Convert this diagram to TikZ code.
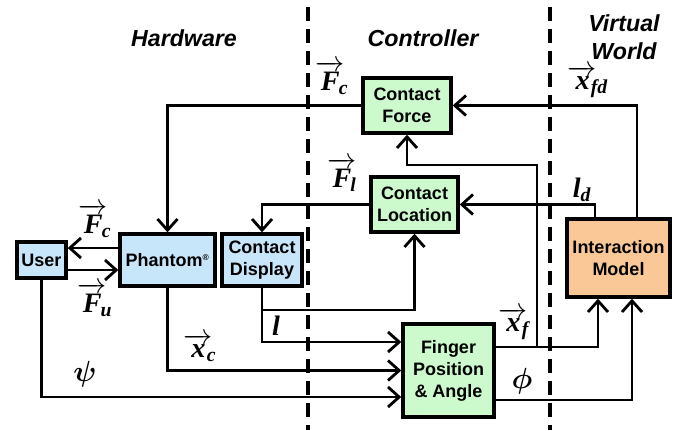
\documentclass[tikz,border=0pt]{standalone}
\usepackage{fontspec}
\usepackage{amsmath}
\setsansfont{Liberation Sans}
\newfontfamily\lserif{Liberation Serif}
\usetikzlibrary{arrows.meta}

\definecolor{ctrlgreen}{RGB}{204,250,204}
\definecolor{hwblue}{RGB}{200,230,250}
\definecolor{vworange}{RGB}{250,200,150}

\newcommand{\vlab}[2]{$\overrightarrow{\text{\lserif\bfseries\itshape #1}}_{\kern-0.22em\text{\lserif\bfseries\itshape #2}}$}
\newcommand{\plab}[2]{${\text{\lserif\bfseries\itshape #1}}_{\text{\lserif\bfseries\itshape #2}}$}

\begin{document}
\begin{tikzpicture}[
  x=0.025cm, y=-0.025cm,
  box/.style={rectangle, draw=black, line width=2.4pt, align=center, inner sep=1pt,
              font=\sffamily\bfseries\fontsize{12.8}{15.7}\selectfont},
  arr/.style={-{Straight Barb[length=2.8mm,width=5mm]}, line width=2pt},
  lab/.style={font=\fontsize{20}{22}\selectfont, inner sep=0pt},
  head/.style={font=\sffamily\bfseries\itshape\fontsize{16.5}{19.5}\selectfont, align=center},
  divider/.style={line width=2.6pt, dash pattern=on 0.35cm off 0.2cm}
]
\useasboundingbox (0,0) rectangle (673,430);

\draw[divider] (308,7) -- (308,430);
\draw[divider] (550,7) -- (550,430);

\node[head] (hhw) at (184,38) {Hardware};
\node[head] (hctrl) at (423,38) {Controller};
\node[head] (hvw) at (624,37) {Virtual\\World};

\node[box, fill=ctrlgreen, minimum width=2.2cm, minimum height=1.375cm] (force)
  at (407,105.5) {Contact\\Force};
\node[box, fill=ctrlgreen, minimum width=2.175cm, minimum height=1.375cm] (location)
  at (414.5,204.5) {Contact\\Location};
\node[box, fill=vworange, minimum width=2.575cm, minimum height=1.95cm] (model)
  at (618.5,258) {Interaction\\Model};
\node[box, fill=ctrlgreen, minimum width=2.275cm, minimum height=2.325cm] (finger)
  at (448.5,370.5) {Finger\\Position\\\& Angle};
\node[box, fill=hwblue, minimum width=1.225cm, minimum height=0.9cm] (user)
  at (41.5,260) {User};
\node[box, fill=hwblue, minimum width=2.375cm, minimum height=1.3cm] (phantom)
  at (167.5,260) {Phantom\textsuperscript{\fontsize{6}{6}\selectfont ®}};
\node[box, fill=hwblue, minimum width=2.0cm, minimum height=1.3cm] (display)
  at (262,260) {Contact\\Display};

\coordinate (tap) at (537,347);
\coordinate (kink) at (537,165);
\coordinate (lsplit) at (262,310);

\draw[arr] ([xshift=0.4625cm]model.north) |- (force.east);
\draw[arr] (force.west) -| (phantom.north);
\draw[arr] ([xshift=-0.5875cm]model.north) |- (location.east);
\draw[arr] (location.west) -| (display.north);
\draw[arr] ([yshift=0.5875cm]finger.east) -| ([xshift=-0.5125cm]model.south);
\draw[arr] (tap) -- (kink) -| (force.south);
\draw[arr] ([yshift=-0.7375cm]finger.east) -| ([xshift=0.3375cm]model.south);
\draw[arr] (display.south) |- (location.south |- lsplit) -- (location.south);
\draw[arr] (display.south) |- ([yshift=0.7125cm]finger.west);
\draw[arr] (phantom.south) |- (finger.west);
\draw[arr] (user.south) |- ([yshift=-0.6625cm]finger.west);
\draw[arr] ([yshift=0.3cm]phantom.west) -- ([yshift=0.3cm]user.east);
\draw[arr] ([yshift=-0.25cm]user.east) -- ([yshift=-0.25cm]phantom.west);

\node[lab] (lfc) at (332,78) {\vlab{F}{c}};
\node[lab] (lxfd) at (588,82) {\vlab{x}{fd}};
\node[lab] (lfl) at (342,175) {\vlab{F}{l}};
\node[lab] (lld) at (582,190) {\plab{l}{d}};
\node[lab] (lfc2) at (95,221) {\vlab{F}{c}};
\node[lab] (lfu) at (95,300) {\vlab{F}{u}};
\node[lab] (ll) at (276,326) {\text{\lserif\bfseries\itshape l}};
\node[lab] (lxc) at (200,348) {\vlab{x}{c}};
\node[lab] (lpsi) at (85,374) {$\boldsymbol{\psi}$};
\node[lab] (lxf) at (514,324) {\vlab{x}{f}};
\node[lab] (lphi) at (522,381) {$\boldsymbol{\phi}$};
\end{tikzpicture}
\end{document}
